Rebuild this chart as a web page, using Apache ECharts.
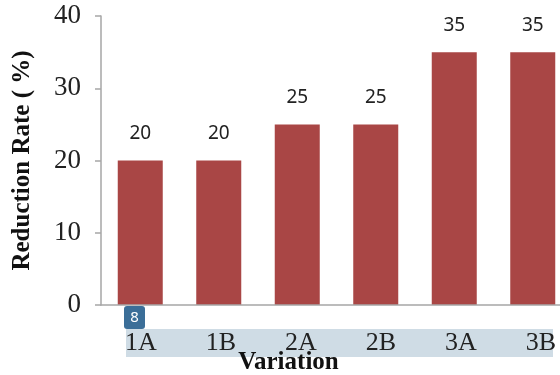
<!DOCTYPE html>
<html>
<head>
<meta charset="utf-8">
<script src="https://cdn.jsdelivr.net/npm/echarts@6/dist/echarts.min.js"></script>
<style>
  html, body { margin: 0; padding: 0; background: #fff; }
  #chart { width: 560px; height: 375px; }
</style>
</head>
<body>
<div id="chart"></div>
<script>
var variations = ['1A', '1B', '2A', '2B', '3A', '3B'];
var reduction = [20, 20, 25, 25, 35, 35];
var yTicks = { min: 0, max: 40, interval: 10 };

var serif = "'Liberation Serif', 'DejaVu Serif', serif";
var myChart = echarts.init(document.getElementById('chart'));

var option = {
    animation: false,
    backgroundColor: '#fff',
    grid: [
        // plot runs off the right edge of the picture
        { left: 101, width: 471, top: 16, bottom: 70, outerBoundsMode: 'none' },
        // label row is spaced a touch wider than the bars
        { left: 101, width: 480, top: 16, bottom: 70, outerBoundsMode: 'none' }
    ],
    xAxis: [
        {
            type: 'category',
            gridIndex: 0,
            data: variations,
            name: 'Variation',
            nameLocation: 'middle',
            nameGap: 45,
            nameTextStyle: {
                fontFamily: serif, fontWeight: 'bold', fontSize: 25, color: '#111',
                padding: [0, 96, 0, 0]
            },
            axisLine: { lineStyle: { color: '#a6a6a6', width: 1.5 } },
            axisTick: { show: false },
            axisLabel: { show: false },
            z: 5
        },
        {
            type: 'category',
            gridIndex: 1,
            data: variations,
            axisLine: { show: false },
            axisTick: { show: false },
            axisLabel: { margin: 25, fontFamily: serif, fontSize: 26, color: '#222' },
            z: 10
        }
    ],
    yAxis: [
        {
            type: 'value',
            gridIndex: 0,
            min: yTicks.min,
            max: yTicks.max,
            interval: yTicks.interval,
            name: 'Reduction Rate ( %)',
            nameLocation: 'middle',
            nameGap: 66,
            nameTextStyle: { fontFamily: serif, fontWeight: 'bold', fontSize: 25, color: '#111' },
            axisLine: { show: true, lineStyle: { color: '#a6a6a6', width: 1.5 } },
            axisTick: { show: true, length: 6, lineStyle: { color: '#a6a6a6', width: 1.5 } },
            axisLabel: { margin: 20, fontFamily: serif, fontSize: 27, color: '#222' },
            splitLine: { show: false }
        },
        { type: 'value', gridIndex: 1, show: false, min: 0, max: 40 }
    ],
    series: [
        {
            type: 'bar',
            xAxisIndex: 0,
            yAxisIndex: 0,
            data: reduction,
            barWidth: 45,
            itemStyle: { color: '#a94645' },
            label: {
                show: true,
                position: 'top',
                distance: 17,
                fontFamily: "'Noto Sans', sans-serif",
                fontSize: 19,
                color: '#222'
            }
        }
    ],
    graphic: [
        {
            type: 'rect',
            z: -10,
            shape: { x: 126, y: 329, width: 427, height: 28 },
            style: { fill: '#cfdce5' }
        },
        {
            type: 'rect',
            z: 20,
            shape: { x: 124, y: 306, width: 21, height: 23, r: 3 },
            style: { fill: '#3b6e98' }
        },
        {
            type: 'text',
            z: 21,
            x: 134.5,
            y: 318,
            style: {
                text: '8',
                fill: '#fff',
                font: "15px 'Noto Sans', sans-serif",
                align: 'center',
                verticalAlign: 'middle'
            }
        }
    ]
};

myChart.setOption(option);
</script>
</body>
</html>
